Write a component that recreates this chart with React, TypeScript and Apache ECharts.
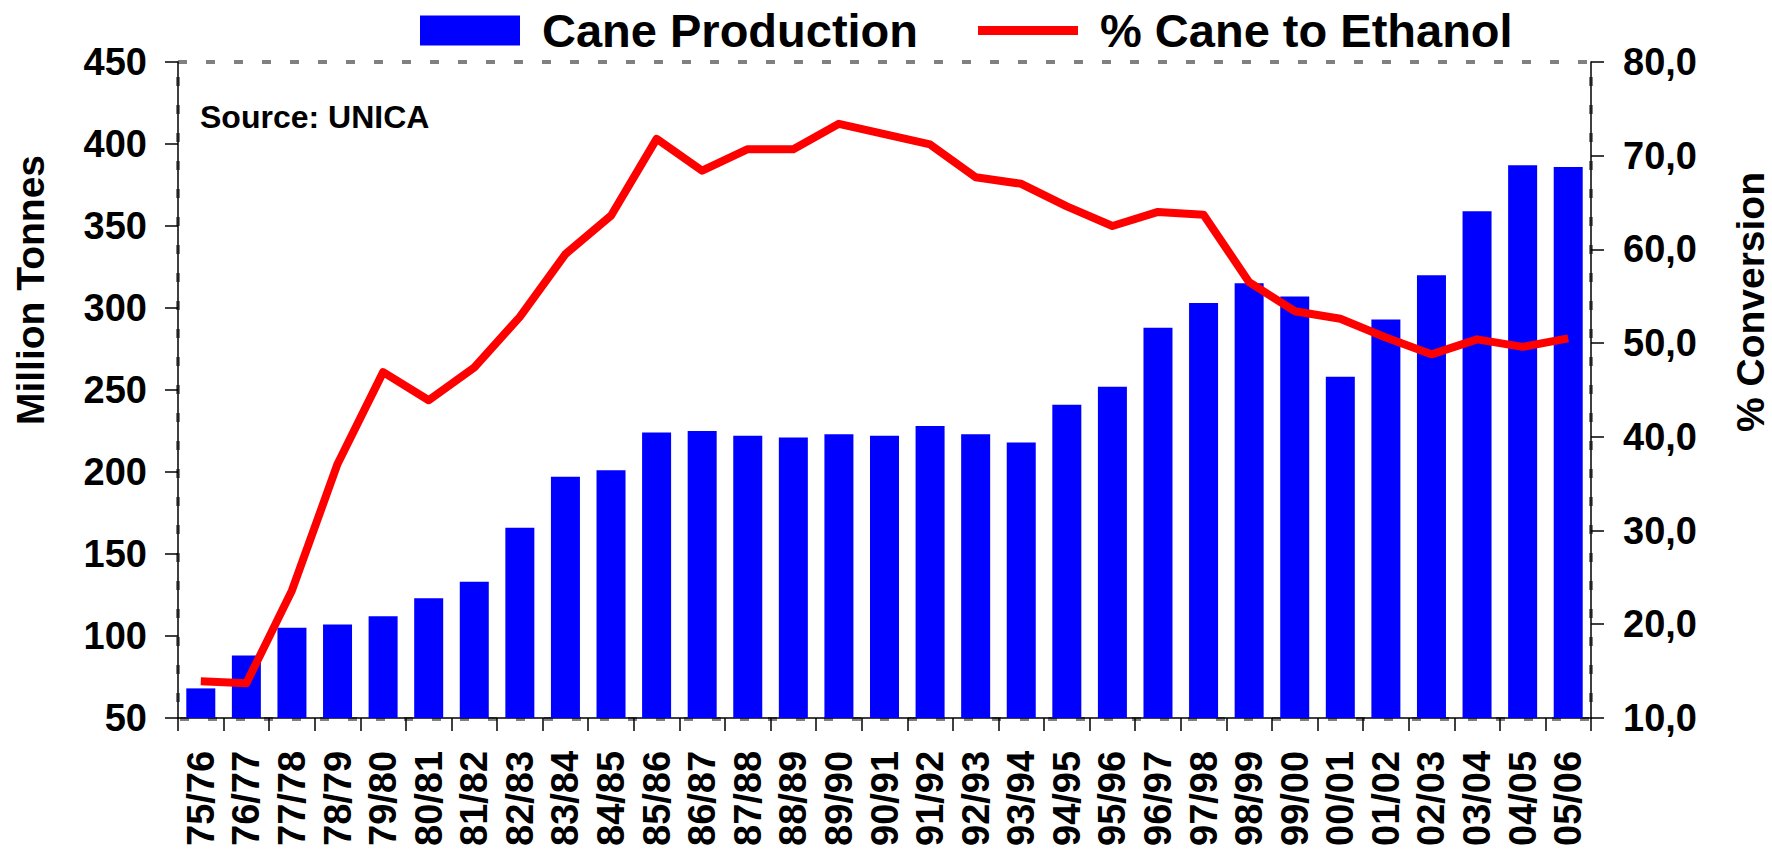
import React, { useEffect, useRef } from "react";
import * as echarts from "echarts";

const categories = [
  "75/76", "76/77", "77/78", "78/79", "79/80", "80/81", "81/82", "82/83", "83/84", "84/85",
  "85/86", "86/87", "87/88", "88/89", "89/90", "90/91", "91/92", "92/93", "93/94", "94/95",
  "95/96", "96/97", "97/98", "98/99", "99/00", "00/01", "01/02", "02/03", "03/04", "04/05", "05/06",
];

const caneProduction = [
  68, 88, 105, 107, 112, 123, 133, 166, 197, 201,
  224, 225, 222, 221, 223, 222, 228, 223, 218, 241,
  252, 288, 303, 315, 307, 258, 293, 320, 359, 387, 386,
];

const caneToEthanol = [
  13.9, 13.7, 23.6, 37.1, 46.9, 43.9, 47.4, 52.8, 59.5, 63.6,
  71.8, 68.4, 70.7, 70.7, 73.4, 72.3, 71.2, 67.7, 67.0, 64.6,
  62.5, 64.0, 63.7, 56.5, 53.4, 52.6, 50.6, 48.8, 50.4, 49.6, 50.5,
];

const seriesNames = ["Cane Production", "% Cane to Ethanol"];
const leftAxisName = "Million Tonnes";
const rightAxisName = "% Conversion";
const sourceNote = "Source: UNICA";

const FONT = "'Liberation Sans', Arial, sans-serif";

export default function App() {
  const ref = useRef<HTMLDivElement>(null);

  useEffect(() => {
    if (!ref.current) return;
    const chart = echarts.init(ref.current, null, { renderer: "svg" });
    const gridLeft = 178;
    const gridTop = 62;
    const gridRight = 181;
    const gridBottom = 130;
    const W = 1772;
    const H = 849;

    chart.setOption({
      animation: false,
      backgroundColor: "#ffffff",
      textStyle: { fontFamily: FONT },
      legend: {
        left: 420,
        top: 7,
        padding: 0,
        itemWidth: 100,
        itemHeight: 30,
        itemGap: 60,
        selectedMode: false,
        textStyle: {
          fontFamily: FONT,
          fontSize: 47,
          fontWeight: "bold",
          color: "#000",
          padding: [0, 0, 0, 17],
        },
        data: [
          { name: seriesNames[0], icon: "rect" },
          { name: seriesNames[1], icon: "path://M0,0L100,0L100,9L0,9Z" },
        ],
      },
      grid: {
        left: gridLeft,
        top: gridTop,
        right: gridRight,
        bottom: gridBottom,
        containLabel: false,
      },
      graphic: [
        {
          type: "rect",
          z: -1,
          silent: true,
          shape: {
            x: gridLeft,
            y: gridTop,
            width: W - gridLeft - gridRight,
            height: H - gridTop - gridBottom,
          },
          style: {
            fill: "none",
            stroke: "#808080",
            lineWidth: 4,
            lineDash: [9, 19],
          },
        },
        {
          type: "text",
          left: 200,
          top: 101,
          style: {
            text: sourceNote,
            fontFamily: FONT,
            fontSize: 32,
            fontWeight: "bold",
            fill: "#000",
          },
        },
        {
          type: "text",
          x: 30,
          y: 290,
          rotation: Math.PI / 2,
          style: {
            text: leftAxisName,
            fontFamily: FONT,
            fontSize: 39,
            fontWeight: "bold",
            fill: "#000",
            align: "center",
            verticalAlign: "middle",
          },
        },
        {
          type: "text",
          x: 1750,
          y: 302,
          rotation: Math.PI / 2,
          style: {
            text: rightAxisName,
            fontFamily: FONT,
            fontSize: 39,
            fontWeight: "bold",
            fill: "#000",
            align: "center",
            verticalAlign: "middle",
          },
        },
      ],
      xAxis: {
        type: "category",
        data: categories,
        boundaryGap: true,
        axisLine: { show: true, lineStyle: { color: "#000", width: 1.5 } },
        axisTick: { show: true, length: 13, lineStyle: { color: "#000", width: 1.5 } },
        axisLabel: {
          interval: 0,
          rotate: 90,
          margin: 33,
          fontFamily: FONT,
          fontSize: 38,
          fontWeight: "bold",
          color: "#000",
        },
        splitLine: { show: false },
      },
      yAxis: [
        {
          type: "value",
          min: 50,
          max: 450,
          interval: 50,
          position: "left",
          axisLine: { show: true, lineStyle: { color: "#000", width: 1.5 } },
          axisTick: { show: true, length: 13, lineStyle: { color: "#000", width: 1.5 } },
          axisLabel: {
            margin: 31,
            fontFamily: FONT,
            fontSize: 38,
            fontWeight: "bold",
            color: "#000",
          },
          splitLine: { show: false },
        },
        {
          type: "value",
          min: 10,
          max: 80,
          interval: 10,
          position: "right",
          axisLine: { show: true, lineStyle: { color: "#000", width: 1.5 } },
          axisTick: { show: true, length: 13, lineStyle: { color: "#000", width: 1.5 } },
          axisLabel: {
            margin: 32,
            fontFamily: FONT,
            fontSize: 38,
            fontWeight: "bold",
            color: "#000",
            formatter: (v: number) => v.toFixed(1).replace(".", ","),
          },
          splitLine: { show: false },
        },
      ],
      series: [
        {
          name: seriesNames[0],
          type: "bar",
          yAxisIndex: 0,
          data: caneProduction,
          barWidth: 29,
          itemStyle: { color: "#0000ff" },
        },
        {
          name: seriesNames[1],
          type: "line",
          yAxisIndex: 1,
          data: caneToEthanol,
          symbol: "none",
          showSymbol: false,
          lineStyle: { color: "#ff0000", width: 8, join: "round" },
          itemStyle: { color: "#ff0000" },
        },
      ],
    });

    return () => {
      chart.dispose();
    };
  }, []);

  return (
    <div
      ref={ref}
      style={{ position: "fixed", left: 0, top: 0, width: 1772, height: 849 }}
    />
  );
}
